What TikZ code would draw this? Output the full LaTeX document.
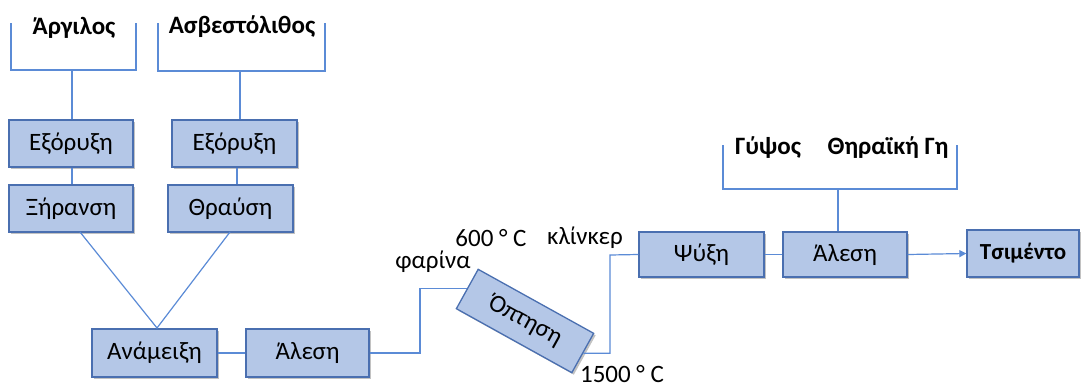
\documentclass[tikz,border=0pt]{standalone}
\usepackage{fontspec}
\setmainfont{Carlito}
\usetikzlibrary{shadows,arrows.meta}
\definecolor{boxfill}{HTML}{B4C7E7}
\definecolor{boxedge}{HTML}{4A6FB0}
\definecolor{wire}{HTML}{5B8BD6}
\tikzset{
  stage/.style={draw=boxedge, fill=boxfill, line width=1.3pt, minimum height=47pt,
    inner sep=0pt, font=\fontsize{25}{30}\selectfont,
    drop shadow={shadow xshift=2pt, shadow yshift=-2pt, fill=black!40, opacity=0.6}},
  wireline/.style={draw=wire, line width=1.2pt},
  lbl/.style={font=\fontsize{25}{30}\selectfont, inner sep=0pt},
  blbl/.style={font=\bfseries\fontsize{25}{30}\selectfont, inner sep=0pt},
}
\begin{document}
\begin{tikzpicture}[x=1pt,y=-1pt]
\useasboundingbox (0,0) rectangle (1081,388);
% raw materials
\node[blbl] (argil) at (74,28) {Άργιλος};
\node[blbl] (asv) at (242,27) {Ασβεστόλιθος};
% left column
\node[stage, minimum width=124pt] (ex1) at (71,143.5) {Εξόρυξη};
\node[stage, minimum width=124pt] (xir) at (71,208.5) {Ξήρανση};
% right column
\node[stage, minimum width=125pt] (ex2) at (234.5,143.5) {Εξόρυξη};
\node[stage, minimum width=125pt] (thr) at (230.5,208.5) {Θραύση};
% lower row
\node[stage, minimum width=125pt, minimum height=48pt] (mix) at (154.5,353) {Ανάμειξη};
\node[stage, minimum width=123pt, minimum height=48pt] (mill1) at (307.5,353) {Άλεση};
\node[stage, minimum width=132pt, minimum height=45pt, rotate=-29] (kiln) at (525,321) {Όπτηση};
\node[stage, minimum width=125pt, minimum height=45pt] (cool) at (701.5,254.5) {Ψύξη};
\node[stage, minimum width=124pt, minimum height=45pt] (mill2) at (845,254.5) {Άλεση};
\node[stage, minimum width=112pt, minimum height=47pt, font=\bfseries\fontsize{23}{28}\selectfont] (cem) at (1023,253.5) {Τσιμέντο};
% additives
\node[blbl] (gyps) at (768,148) {Γύψος};
\node[blbl] (thir) at (888,148) {Θηραϊκή Γη};
% process labels
\node[lbl] (t600) at (491,238) {600 ° C};
\node[lbl] (far) at (433,262) {φαρίνα};
\node[lbl] (klin) at (585,238) {κλίνκερ};
\node[lbl] (t1500) at (622,374) {1500 ° C};
% brackets over the inputs
\coordinate (b1s) at (72,70);
\draw[wireline] (11,23) |- (b1s) -| (136,23);
\draw[wireline] (b1s) -- (b1s |- ex1.north);
\coordinate (b2s) at (240,71);
\draw[wireline] (158,23) |- (b2s) -| (325,23);
\draw[wireline] (b2s) -- (b2s |- ex2.north);
\coordinate (b3s) at (838,189);
\draw[wireline] (723,145) |- (b3s) -| (957,145);
\draw[wireline] (b3s) -- (b3s |- mill2.north);
% flow lines
\coordinate (c1) at (72,0);
\draw[wireline] (c1 |- ex1.south) -- (c1 |- xir.north);
\coordinate (c2) at (237,0);
\draw[wireline] (c2 |- ex2.south) -- (c2 |- thr.north);
\coordinate (meet) at (157,328);
\draw[wireline] (80,232) -- (meet) -- (230,232);
\draw[wireline] (mix) -- (mill1);
\coordinate (up1) at (420,353);
\draw[wireline] (mill1.east) -- (up1) |- (kiln.west);
\coordinate (up2) at (610,255);
\draw[wireline] (kiln.east) -| (up2) -- (cool.west);
\draw[wireline] (cool) -- (mill2);
\draw[wireline, -{Triangle[length=7pt,width=7pt]}] (mill2.east) -- (cem.west);
\end{tikzpicture}
\end{document}
